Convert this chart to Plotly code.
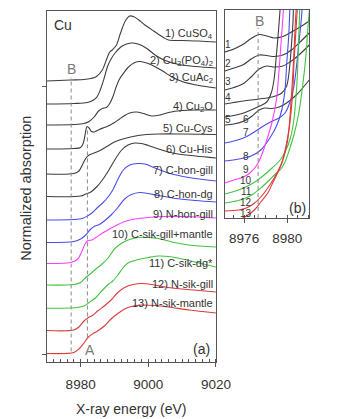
import plotly.graph_objects as go

# ---------------- panel (a): offset Cu K-edge XANES spectra ----------------
E1 = [8970, 8977, 8981, 8983, 8984.7, 8986.4, 8987.7, 8988.6, 8989.5, 8990.6, 8991.8, 8993.2, 8994.5, 8995.6, 8997, 8999, 9001.6, 9004.5, 9006, 9010, 9015, 9020]
A1 = [281, 282, 282.5, 283.5, 285.5, 292, 303, 310, 312.5, 317, 329, 341, 346, 345.5, 342.5, 337, 331, 324.5, 322, 321.5, 321, 320]
E2 = [8970, 8978, 8982, 8983.8, 8984.8, 8985.8, 8986.8, 8988, 8989, 8990.3, 8992.3, 8994.8, 8997, 8999.8, 9002, 9005, 9009, 9014, 9020]
A2 = [258, 258.5, 259.5, 262, 265, 272, 282, 296, 303, 309.5, 316, 319, 318, 313, 307, 301.5, 297.5, 295.5, 294]
E3 = [8970, 8978, 8981, 8982.5, 8984, 8985.3, 8986.4, 8987.6, 8988.5, 8989.5, 8990.5, 8991.5, 8992.5, 8994, 8996, 8997.5, 8999, 9001, 9004, 9007, 9010, 9015, 9020]
A3 = [237, 237.5, 238.5, 240.5, 245, 251, 253.5, 254.5, 258, 265, 275, 283, 288, 294.5, 299.5, 300.5, 299.5, 297, 291.5, 285, 280.5, 276.5, 274]
E4 = [8970, 8978, 8980, 8980.8, 8981.4, 8981.9, 8982.5, 8983.2, 8984, 8985.5, 8987, 8988.5, 8990, 8991.5, 8993, 8994.5, 8996.5, 8998.5, 9001, 9003.5, 9006, 9010, 9015, 9020]
A4 = [213, 213.5, 214.5, 219, 229, 235.5, 234, 230.5, 230, 232.5, 234.5, 236.5, 239.5, 243, 246.5, 249, 250, 248.5, 246, 247, 249.5, 251.5, 252, 252]
E5 = [8970, 8978, 8979.5, 8980.5, 8981.5, 8982.5, 8984, 8986, 8988, 8990, 8993, 8997, 9003, 9010, 9020]
A5 = [188, 188.5, 191, 197, 203.5, 207, 209, 212, 216, 220, 223.5, 226.5, 228, 228, 227.5]
E6 = [8970, 8980, 8981.5, 8983, 8984.7, 8986.2, 8988, 8990, 8992, 8994, 8996, 8998, 9000, 9004, 9008, 9014, 9020]
A6 = [165.5, 166, 168, 170, 175, 181, 190, 201.5, 211.5, 217, 219, 218.5, 216.5, 212, 208.5, 206, 204]
E7 = [8970, 8978, 8980.5, 8982, 8983.5, 8985, 8986.5, 8988, 8989.5, 8991, 8992.5, 8994.5, 8997, 8999, 9002, 9006, 9012, 9020]
A7 = [142, 142.5, 143.5, 146, 149.5, 154.5, 159, 164.5, 172, 182.5, 191.5, 197, 198.5, 198, 194, 189, 184.5, 181]
E8 = [8970, 8978, 8980, 8981.5, 8983, 8984, 8985.5, 8987, 8989, 8991, 8993, 8995, 8997.5, 9000, 9003, 9008, 9014, 9020]
A8 = [119.5, 120.5, 123, 127, 133, 135.5, 137.5, 141, 147, 154.5, 163, 167.5, 169.5, 168.5, 166.5, 163.5, 161.5, 160]
E9 = [8970, 8977, 8979, 8980.3, 8981.3, 8982.2, 8983.3, 8984.5, 8986.5, 8988.5, 8990.5, 8993, 8996, 9000, 9005, 9010, 9015, 9020]
A9 = [98.5, 99.5, 102.5, 110, 118, 121.5, 122, 124.5, 129, 133, 136.5, 140.5, 143, 144.5, 145.5, 145.5, 145, 144]
E10 = [8970, 8978, 8980, 8981.5, 8983, 8984.5, 8986, 8988, 8990, 8992, 8994, 8997, 9000, 9003, 9007, 9012, 9020]
A10 = [77, 77.5, 79.5, 84.5, 88.5, 93, 97, 103.5, 113, 118.5, 122, 124.5, 124.5, 123.5, 120, 117, 115]
E11 = [8970, 8979, 8981, 8982.5, 8984.5, 8986.5, 8988.5, 8989.5, 8991, 8992.5, 8994, 8997, 9000, 9003, 9006, 9010, 9015, 9020]
A11 = [53.7, 54.5, 56, 59.5, 64.5, 72, 78.5, 81, 87, 94, 99, 102.5, 104.5, 106, 105.5, 103, 99, 95]
E12 = [8970, 8978, 8979.5, 8981, 8982.3, 8983.5, 8985, 8987, 8989, 8991, 8993, 8995.5, 8998, 9001, 9005, 9010, 9015, 9020]
A12 = [31.5, 32, 35, 41, 44.5, 46.5, 51, 56, 62, 69.5, 74.5, 77.5, 78.5, 77.5, 75, 73, 71.5, 70]
E13 = [8970, 8978, 8979.5, 8981, 8982.3, 8983.5, 8985, 8987, 8989, 8991, 8993, 8995, 8998, 9002, 9006, 9012, 9020]
A13 = [8.5, 9.5, 13, 19, 25, 28, 31, 36, 43, 48.5, 53, 55.5, 57, 56.5, 55, 52, 49]

# ---------------- panel (b): pre-edge zoom ----------------
EB123 = [8974.2, 8975.05, 8975.95, 8976.65, 8977.4, 8978.1, 8978.8, 8979.6, 8980.4, 8981.2, 8982.05]
B1 = [166, 169, 174, 179.5, 183.5, 182, 180, 181.5, 186, 191, 197]
B2 = [147, 150, 153.5, 159, 163, 162.5, 161.5, 163, 168, 176, 185]
B3 = [128, 130.5, 134.5, 141, 149, 152, 151, 152, 157, 164, 173]
EB4 = [8974.2, 8975.05, 8975.95, 8977.4, 8978.6, 8979.5, 8979.95, 8980.2, 8980.4, 8980.55, 8980.6, 8980.7]
B4 = [114, 115.5, 117, 119, 121, 125, 132, 148, 173, 198, 218, 238]
EB5 = [8974.2, 8975.05, 8975.95, 8976.85, 8977.45, 8978.1, 8978.55, 8978.8, 8979.0, 8979.2, 8979.35, 8979.45]
B5 = [101, 102.5, 105, 109, 112, 116, 126, 140, 163, 188, 210, 232]
EB6 = [8974.2, 8975.05, 8976.0, 8976.75, 8977.4, 8977.9, 8978.55, 8979.25, 8979.95, 8980.85, 8982.05]
B6 = [93, 94, 97, 102, 108, 110, 109.5, 111, 115, 123, 138]
EB7 = [8974.2, 8975.05, 8976.15, 8976.95, 8977.65, 8978.45, 8979.25, 8979.8, 8980.2, 8980.6, 8980.85, 8981.1, 8981.35, 8981.45]
B7 = [75, 77, 81, 86, 91, 96, 100, 105, 114, 130, 150, 176, 203, 223]
EB8 = [8974.2, 8975.5, 8976.65, 8977.55, 8978.45, 8979.05, 8979.5, 8979.8, 8979.95, 8980.15, 8980.25, 8980.35]
B8 = [57, 59, 62, 68, 81, 93, 108, 128, 153, 183, 208, 228]
EB9 = [8974.2, 8975.05, 8975.95, 8976.65, 8977.3, 8977.8, 8978.25, 8978.6, 8979.0, 8979.25, 8979.45, 8979.65, 8979.72]
B9 = [35, 38, 41, 46, 55, 68, 83, 96, 118, 148, 178, 208, 228]
EB10 = [8974.2, 8975.05, 8975.95, 8976.85, 8977.75, 8978.6, 8979.35, 8979.85, 8980.3, 8980.6, 8980.8, 8980.95, 8981.05, 8981.15, 8981.2]
B10 = [24, 26.5, 30, 35, 42, 50, 58, 67, 80, 96, 118, 143, 173, 203, 223]
EB11 = [8974.2, 8975.05, 8975.95, 8976.85, 8977.65, 8978.35, 8978.9, 8979.35, 8979.8, 8980.2, 8980.65, 8981.1, 8981.45, 8981.75, 8981.95, 8982.1]
B11 = [15, 16.5, 19, 24, 31, 38, 44, 48, 56, 68, 84, 106, 133, 163, 193, 213]
EB12 = [8974.2, 8975.5, 8976.2, 8976.85, 8977.55, 8978.45, 8979.05, 8979.5, 8979.85, 8980.15, 8980.4, 8980.6, 8980.75, 8980.9]
B12 = [7, 8, 10, 14, 21, 34, 45, 55, 70, 88, 123, 158, 193, 218]
EB13 = [8975.3, 8976.15, 8976.95, 8977.55, 8978.2, 8978.7, 8979.15, 8979.6, 8979.95, 8980.2, 8980.5, 8980.65, 8980.85, 8981.0]
B13 = [-3, 1.5, 8, 16, 25, 36, 46, 58, 72, 90, 123, 158, 193, 218]

SAMPLES = ["1) CuSO<sub>4</sub>", "2) Cu<sub>3</sub>(PO<sub>4</sub>)<sub>2</sub>", "3) CuAc<sub>2</sub>",
           "4) Cu<sub>2</sub>O", "5) Cu-Cys", "6) Cu-His", "7) C-hon-gill", "8) C-hon-dg",
           "9) N-hon-gill", "10) C-sik-gill+mantle", "11) C-sik-dg*", "12) N-sik-gill",
           "13) N-sik-mantle"]
EDGE_B = 8977.2
EDGE_A = 8982.0
XTICKS_A = [8970, 8980, 9000, 9020]
XTICKS_B = [8976, 8980]

# ---------------- styles / layout positions ----------------
GRAY, BLUE, PINK, GREEN, RED = "#3d3d3d", "#4b4bf2", "#ff3dff", "#3fc43f", "#d93c3c"
COLORS = [GRAY] * 6 + [BLUE, BLUE, PINK, GREEN, GREEN, RED, RED]
LABEL_Y_A = [328, 301, 284, 255.5, 234, 213.5, 192.5, 168.5, 148.5, 128.5, 99, 78.5, 59]
LABEL_POS_B = [(8974.49, 174), (8974.49, 155), (8974.49, 137), (8974.49, 121), (8974.49, 99),
               (8976.13, 99), (8976.13, 86), (8976.2, 62), (8976.13, 49), (8976.2, 38),
               (8976.2, 27), (8976.2, 16), (8976.2, 5)]
FONT = "Arial, Liberation Sans, sans-serif"
TXT = "#333333"

series_a = [(E1, A1), (E2, A2), (E3, A3), (E4, A4), (E5, A5), (E6, A6), (E7, A7),
            (E8, A8), (E9, A9), (E10, A10), (E11, A11), (E12, A12), (E13, A13)]
series_b = [(EB123, B1), (EB123, B2), (EB123, B3), (EB4, B4), (EB5, B5), (EB6, B6), (EB7, B7),
            (EB8, B8), (EB9, B9), (EB10, B10), (EB11, B11), (EB12, B12), (EB13, B13)]

fig = go.Figure()
for (x, y), c in zip(series_a, COLORS):
    fig.add_trace(go.Scatter(x=x, y=y, mode="lines", line=dict(color=c, width=1.1, shape="spline", smoothing=0.9),
                             xaxis="x", yaxis="y", hoverinfo="skip"))
for (x, y), c in zip(series_b, COLORS):
    fig.add_trace(go.Scatter(x=x, y=y, mode="lines", line=dict(color=c, width=1.1, shape="spline", smoothing=0.9),
                             xaxis="x2", yaxis="y2", hoverinfo="skip"))

dash = dict(color="#8a8a8a", width=1, dash="4px,3px")
fig.add_shape(type="line", xref="x", yref="y domain", x0=EDGE_B, x1=EDGE_B, y0=0.03, y1=0.81, line=dash)
fig.add_shape(type="line", xref="x", yref="y domain", x0=EDGE_A, x1=EDGE_A, y0=0.07, y1=0.67, line=dash)
fig.add_shape(type="line", xref="x2", yref="y2 domain", x0=EDGE_B + 0.1, x1=EDGE_B + 0.1, y0=0.0, y1=0.915, line=dash)


def note(x, y, text, size, color=TXT, xref="x", yref="y", xanchor="center", angle=0):
    return dict(x=x, y=y, xref=xref, yref=yref, text=text, showarrow=False, xanchor=xanchor, yanchor="middle",
                textangle=angle, font=dict(size=size, color=color, family=FONT))


ann = [note(9019.6, yl, name, 11, xanchor="right") for name, yl in zip(SAMPLES, LABEL_Y_A)]
ann += [note(xb, yb, str(i + 1), 10, xref="x2", yref="y2") for i, (xb, yb) in enumerate(LABEL_POS_B)]
ann += [
    note(8974.8, 337, "Cu", 14),
    note(EDGE_B, 293, "B", 14, color="#7a7a7a"),
    note(8982.7, 12, "A", 14, color="#7a7a7a"),
    note(9015.6, 13, "(a)", 14),
    note(8977.42, 197, "B", 14, color="#7a7a7a", xref="x2", yref="y2"),
    note(8980.93, 10, "(b)", 14, xref="x2", yref="y2"),
    note(27 / 337, (419 - 188) / 419, "Normalized absorption", 14.5, xref="paper", yref="paper", angle=-90),
    note(137.5 / 337, (419 - 409) / 419, "X-ray energy (eV)", 14, xref="paper", yref="paper"),
]

axline = dict(showline=True, linecolor="#555555", linewidth=1, mirror=True, showgrid=False, zeroline=False)
fig.update_layout(
    width=337, height=419, margin=dict(l=0, r=0, t=0, b=0),
    paper_bgcolor="white", plot_bgcolor="white", showlegend=False,
    annotations=ann,
    xaxis=dict(domain=[49 / 337, 226 / 337], range=[8970, 9020], tickvals=XTICKS_A[1:], ticks="outside", ticklen=4,
               tickcolor="#555555", ticklabelstandoff=6,
               tickfont=dict(size=13.5, color=TXT, family=FONT),
               minor=dict(dtick=2, tick0=XTICKS_A[0], ticks="inside", ticklen=3, tickcolor="#555555"), **axline),
    yaxis=dict(domain=[(419 - 362) / 419, (419 - 11) / 419], range=[0, 351], tickvals=[8, 276], ticks="outside",
               ticklen=4, tickcolor="#555555", showticklabels=False, **axline),
    xaxis2=dict(domain=[235 / 337, 323.5 / 337], range=[8974.18, 8982.04], tickvals=XTICKS_B, ticks="outside",
                ticklen=4, tickcolor="#555555", anchor="y2", ticklabelstandoff=4,
                tickfont=dict(size=13.5, color=TXT, family=FONT),
                minor=dict(dtick=1, tick0=XTICKS_B[0], ticks="inside", ticklen=3, tickcolor="#555555"), **axline),
    yaxis2=dict(domain=[(419 - 218) / 419, (419 - 10) / 419], range=[0, 208], anchor="x2", ticks="",
                showticklabels=False, **axline),
)

fig.write_html("out.html")
